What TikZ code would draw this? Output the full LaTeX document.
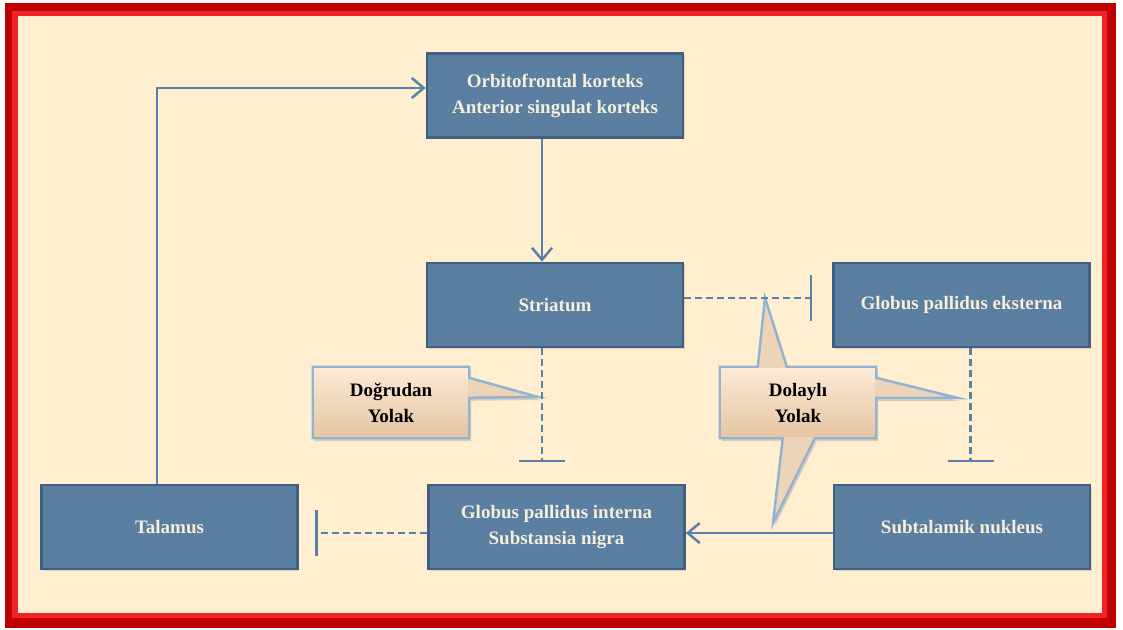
\documentclass[tikz,border=0pt]{standalone}
\usepackage{fontspec}
\setmainfont{Liberation Serif}
\usetikzlibrary{arrows.meta, shadows}
\pgfdeclarelayer{back}
\pgfsetlayers{back,main}
\definecolor{framedark}{HTML}{C00000}
\definecolor{framelite}{HTML}{F02424}
\definecolor{cream}{HTML}{FFEFD0}
\definecolor{boxfill}{HTML}{5A7FA1}
\definecolor{boxline}{HTML}{41607F}
\definecolor{boxtext}{HTML}{F6EEDC}
\definecolor{link}{HTML}{5C81A8}
\definecolor{tagline}{HTML}{92B2D6}
\definecolor{tanhi}{HTML}{FBEAD6}
\definecolor{tanlo}{HTML}{E6C5A2}
\definecolor{tanmid}{HTML}{EED4B6}

\begin{document}
\begin{tikzpicture}[
  x=1pt, y=-1pt,
  box/.style={rectangle, draw=boxline, line width=2.5pt, fill=boxfill,
              minimum width=256pt, minimum height=84pt, inner sep=0pt,
              align=center, text=boxtext,
              font=\fontsize{19}{26}\selectfont\bfseries,
              drop shadow={opacity=.25, shadow xshift=1.5pt, shadow yshift=-1.5pt}},
  tag/.style={rectangle, minimum width=156pt, minimum height=71pt,
              inner sep=0pt, align=center, text=black,
              font=\fontsize{19}{26}\selectfont\bfseries},
  tagedge/.style={draw=tagline, line width=2.5pt, fill=tanmid, line join=miter,
                  drop shadow={opacity=.3, shadow xshift=2pt, shadow yshift=-3pt}},
  arr/.style={draw=link, line width=2.5pt, -{Straight Barb[length=12pt, width=20pt]}},
  inh/.style={draw=link, line width=2.5pt, dash pattern=on 7pt off 4pt,
              -{Bar[width=46pt]}}
]
  \useasboundingbox (0,0) rectangle (1123,629);
  \begin{pgfonlayer}{back}
    % red frame round the cream page
    \fill[white] (0,0) rectangle (1123,629);
    \fill[framedark] (5,3) rectangle (1116,628);
    \fill[framelite] (12,11) rectangle (1107,618);
    \fill[cream] (18,16) rectangle (1102,613);
  \end{pgfonlayer}

  \foreach \nm/\x/\y/\lbl in {
    ofc/555/95.5/{Orbitofrontal korteks\\Anterior singulat korteks},
    str/555/305/Striatum,
    gpe/961.5/305/Globus pallidus eksterna,
    tal/169.5/527/Talamus,
    gpi/556.5/527/{Globus pallidus interna\\Substansia nigra},
    stn/962/527/Subtalamik nukleus}
    {\node[box] (\nm) at (\x,\y) {\lbl};}

  \node[tag] (dog) at (391,402.5) {Doğrudan\\Yolak};
  \node[tag] (dol) at (798,402.5) {Dolaylı\\Yolak};
  \coordinate (dogtip) at (538,397);
  \coordinate (doltipU) at (765,298);
  \coordinate (doltipR) at (958,398);
  \coordinate (doltipD) at (773,523);

  \begin{pgfonlayer}{back}
    \draw[tagedge] (dog.north west) -- (dog.north east)
      -- ([yshift=-11pt]dog.north east) -- (dogtip)
      -- ([yshift=-31pt]dog.north east) -- (dog.south east)
      -- (dog.south west) -- cycle;
    \shade[top color=tanhi, bottom color=tanlo]
      ([shift={(1.25pt,-1.25pt)}]dog.north west) rectangle ([shift={(-1.25pt,1.25pt)}]dog.south east);
    \draw[tagedge] (dol.north west) -- ([xshift=38pt]dol.north west)
      -- (doltipU) -- ([xshift=67pt]dol.north west) -- (dol.north east)
      -- ([yshift=-11pt]dol.north east) -- (doltipR)
      -- ([yshift=-31pt]dol.north east) -- (dol.south east)
      -- ([xshift=95pt]dol.south west) -- (doltipD)
      -- ([xshift=63pt]dol.south west) -- (dol.south west) -- cycle;
    \shade[top color=tanhi, bottom color=tanlo]
      ([shift={(1.25pt,-1.25pt)}]dol.north west) rectangle ([shift={(-1.25pt,1.25pt)}]dol.south east);
  \end{pgfonlayer}

  % ends of the inhibiting links
  \coordinate (barE) at (812,298);
  \coordinate (barS) at (542,462);
  \coordinate (barG) at (970.5,462);
  \coordinate (barT) at (315,533);

  \draw[arr] ([xshift=-12.5pt]tal.north) |- ([yshift=7.5pt]ofc.west);
  \draw[arr] ([xshift=-13pt]ofc.south) -- ([xshift=-13pt]str.north);
  \draw[inh] ([yshift=7pt]str.east) -- (barE);
  \draw[inh] ([xshift=-13pt]str.south) -- (barS);
  \draw[inh] ([xshift=9pt]gpe.south) -- (barG);
  \draw[arr] ([yshift=-6pt]stn.west) -- ([yshift=-6pt]gpi.east);
  \draw[inh] ([yshift=-6pt]gpi.west) -- (barT);
\end{tikzpicture}
\end{document}
